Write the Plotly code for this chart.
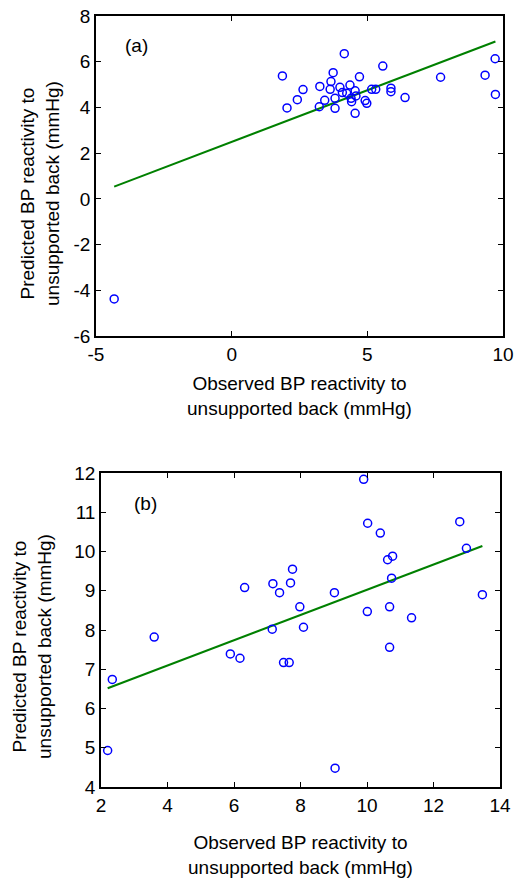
import plotly.graph_objects as go

# Panel (a) data
a_observed = [1.87, 2.04, 2.42, 2.63, 3.23, 3.25, 3.43, 3.63, 3.66, 3.74, 3.81, 3.81,
              3.99, 4.08, 4.15, 4.36, 4.24, 4.55, 4.58, 4.40, 4.42, 4.55, 4.71, 4.92,
              4.98, 5.16, 5.31, 5.57, 5.87, 5.87, 6.39, 7.70, 9.34, 9.71, 9.72, -4.33]
a_predicted = [5.38, 3.98, 4.34, 4.78, 4.03, 4.92, 4.31, 4.79, 5.13, 5.52, 4.40, 3.96,
               4.88, 4.65, 6.35, 4.98, 4.62, 4.73, 4.50, 4.40, 4.25, 3.74, 5.34, 4.30,
               4.18, 4.79, 4.79, 5.81, 4.84, 4.69, 4.43, 5.32, 5.41, 6.13, 4.57, -4.38]
a_fit_slope = 0.452
a_fit_intercept = 2.49
a_xticks = [-5, 0, 5, 10]
a_yticks = [-6, -4, -2, 0, 2, 4, 6, 8]

# Panel (b) data
b_observed = [2.20, 2.34, 3.60, 5.89, 6.18, 6.32, 7.15, 7.17, 7.37, 7.49, 7.66, 7.70,
              7.76, 7.98, 8.09, 9.02, 9.04, 10.01, 10.68, 10.68, 10.74, 11.34, 13.47,
              9.90, 10.02, 10.40, 10.62, 10.77, 12.79, 12.99]
b_predicted = [4.93, 6.74, 7.82, 7.39, 7.28, 9.08, 8.02, 9.18, 8.95, 7.17, 7.17, 9.20,
               9.55, 8.59, 8.07, 8.95, 4.48, 8.47, 8.59, 7.56, 9.32, 8.31, 8.90,
               11.84, 10.72, 10.47, 9.79, 9.88, 10.76, 10.08]
b_fit_slope = 0.3215
b_fit_intercept = 5.81
b_xticks = [2, 4, 6, 8, 10, 12, 14]
b_yticks = [4, 5, 6, 7, 8, 9, 10, 11, 12]

x_title = "Observed BP reactivity to<br>unsupported back (mmHg)"
y_title = "Predicted BP reactivity to<br>unsupported back (mmHg)"

W, H = 516, 880
FONT = "Liberation Sans, Arial, sans-serif"
FS = 19
marker = dict(symbol="circle-open", size=8, color="#0000FF", line=dict(width=1.5, color="#0000FF"))
fitline = dict(color="#008000", width=2)

fig = go.Figure()

ax_fit = [min(a_observed), max(a_observed)]
fig.add_trace(go.Scatter(x=ax_fit, y=[a_fit_intercept + a_fit_slope * v for v in ax_fit],
                         mode="lines", line=fitline, xaxis="x", yaxis="y", showlegend=False))
fig.add_trace(go.Scatter(x=a_observed, y=a_predicted, mode="markers", marker=marker,
                         xaxis="x", yaxis="y", showlegend=False))

bx_fit = [min(b_observed), max(b_observed)]
fig.add_trace(go.Scatter(x=bx_fit, y=[b_fit_intercept + b_fit_slope * v for v in bx_fit],
                         mode="lines", line=fitline, xaxis="x2", yaxis="y2", showlegend=False))
fig.add_trace(go.Scatter(x=b_observed, y=b_predicted, mode="markers", marker=marker,
                         xaxis="x2", yaxis="y2", showlegend=False))

axis_common = dict(showgrid=False, zeroline=False, showline=True, linecolor="black",
                   linewidth=1.5, mirror="ticks", ticks="inside", ticklen=5,
                   tickwidth=1, tickcolor="black", automargin=False,
                   tickfont=dict(family=FONT, size=FS, color="black"))

def ticks(vals):
    return dict(tickmode="array", tickvals=vals, ticktext=[str(v) for v in vals])

def px_x(p):
    return p / W

def px_y(p):
    return 1 - p / H

fig.update_layout(
    width=W, height=H,
    margin=dict(l=0, r=0, t=0, b=0),
    paper_bgcolor="white", plot_bgcolor="white",
    font=dict(family=FONT, size=FS, color="black"),
    xaxis=dict(domain=[px_x(96), px_x(503)], range=[-5, 10], anchor="y", **ticks(a_xticks), **axis_common),
    yaxis=dict(domain=[px_y(336), px_y(16)], range=[-6, 8], anchor="x", **ticks(a_yticks), **axis_common),
    xaxis2=dict(domain=[px_x(101), px_x(500)], range=[2, 14], anchor="y2", **ticks(b_xticks), **axis_common),
    yaxis2=dict(domain=[px_y(787), px_y(473)], range=[4, 12], anchor="x2", **ticks(b_yticks), **axis_common),
    annotations=[
        dict(text="(a)", x=-4.02, y=6.70, xref="x", yref="y", xanchor="left", yanchor="middle",
             showarrow=False, font=dict(family=FONT, size=FS)),
        dict(text="(b)", x=2.92, y=11.23, xref="x2", yref="y2", xanchor="left", yanchor="middle",
             showarrow=False, font=dict(family=FONT, size=FS)),
        dict(text=x_title, x=px_x(299), y=px_y(396), xref="paper", yref="paper",
             xanchor="center", yanchor="middle", showarrow=False, font=dict(family=FONT, size=FS)),
        dict(text=x_title, x=px_x(300), y=px_y(855), xref="paper", yref="paper",
             xanchor="center", yanchor="middle", showarrow=False, font=dict(family=FONT, size=FS)),
        dict(text=y_title, x=px_x(40), y=px_y(194), xref="paper", yref="paper", textangle=-90,
             xanchor="center", yanchor="middle", showarrow=False, font=dict(family=FONT, size=FS)),
        dict(text=y_title, x=px_x(32), y=px_y(647), xref="paper", yref="paper", textangle=-90,
             xanchor="center", yanchor="middle", showarrow=False, font=dict(family=FONT, size=FS)),
    ],
)

fig.write_html("out.html", config={"displayModeBar": False},
               post_script="document.body.style.margin='0';document.body.style.overflow='hidden';")
